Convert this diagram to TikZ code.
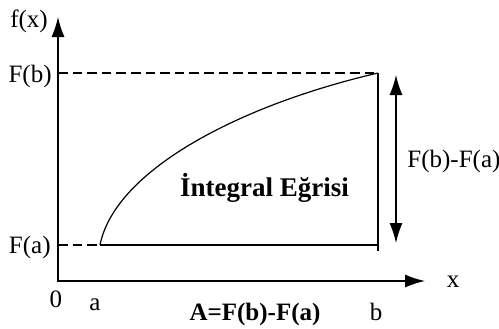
\documentclass[tikz,border=0pt]{standalone}
\usepackage{fontspec}
\setmainfont{Liberation Serif}
\usepackage{tikz}
\usetikzlibrary{arrows.meta}
\tikzset{
  >={Latex[length=10pt,width=6.5pt]},
  axis/.style={<->,line width=.65pt},
  guide/.style={dash pattern=on 4.8pt off 2.5pt,line width=.6pt},
  curve/.style={line width=.6pt},
  edge/.style={line width=.6pt},
  span/.style={<->,line width=.6pt},
  lab/.style={font=\fontsize{12.5}{14}\selectfont,inner sep=0pt,anchor=base},
  boldlab/.style={lab,font=\fontsize{12.5}{14}\selectfont\bfseries},
  curvename/.style={lab,font=\fontsize{13.5}{15}\selectfont\bfseries}
}
\begin{document}
\begin{tikzpicture}[x=.5pt,y=-.5pt]
    \useasboundingbox (0,0) rectangle (499,328);
    \coordinate (o) at (58,281); \coordinate (ytop) at (58,17);
    \coordinate (xend) at (425,281);
    \coordinate (fb) at (58,73); \coordinate (fa) at (58,245);
    \coordinate (pa) at (100,245); \coordinate (pb) at (378,73);
    \coordinate (pab) at (378,245); \coordinate (foot) at (378,251);
    \coordinate (dtop) at (396,75); \coordinate (dbot) at (396,243);
    % axes and guides
    \draw[axis] (ytop)--(o)--(xend);
    \draw[guide] (fb)--(pb);
    \draw[guide] (fa)--(pa);
    \draw[edge] (pa)--(pab);
    \draw[edge] (pb)--(foot);
    \draw[curve] (pa) .. controls (115,170) and (240,105) .. (pb);
    \draw[span] (dtop)--(dbot);
    % labels
    \node[lab] (fx) at (29,27) {f(x)};
    \node[lab,anchor=base east] (lfb) at (52,82.5) {F(b)};
    \node[lab,anchor=base east] (lfa) at (51,253) {F(a)};
    \node[lab] (zero) at (56,307) {0};
    \node[lab] (la) at (95,310) {a};
    \node[lab] (lb) at (376,320) {b};
    \node[lab] (lx) at (453,287.5) {x};
    \node[lab,anchor=base west] (diff) at (407,167) {F(b)-F(a)};
    \node[curvename] (name) at (264.5,196.5) {İntegral Eğrisi};
    \node[boldlab] (area) at (255,320.5) {A=F(b)-F(a)};
  \end{tikzpicture}
\end{document}
